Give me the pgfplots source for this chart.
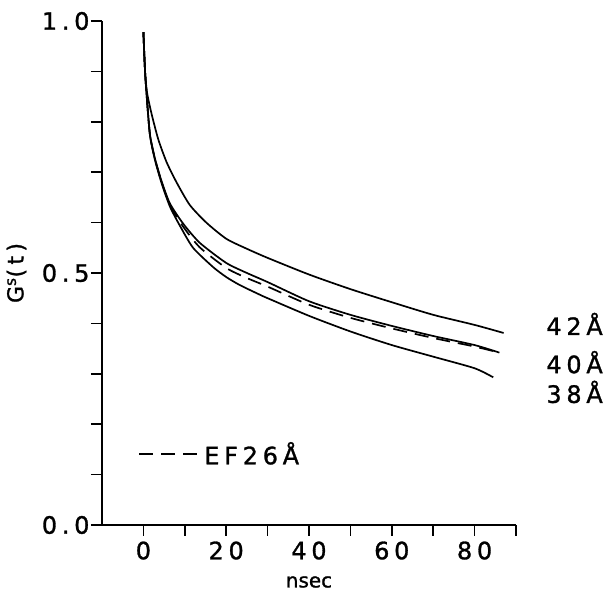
\documentclass[border=0pt]{standalone}
\usepackage{fontspec}
\setmainfont{DejaVu Sans}[LetterSpace=20, FakeBold=1.2]
\usepackage{pgfplots}
\pgfplotsset{compat=1.18}

\begin{document}
\begin{tikzpicture}
  \begin{axis}[
      scale only axis,
      width=414bp, height=504bp,
      xmin=-10, xmax=90,
      ymin=0, ymax=1,
      axis x line=bottom, axis y line=left,
      axis line style={-, line width=1.8bp},
      tick align=outside,
      major tick length=11bp,
      tick style={line width=1.6bp, black},
      xtick={0,10,20,30,40,50,60,70,80,90},
      xticklabels={0,,20,,40,,60,,80,},
      ytick={0,0.1,0.2,0.3,0.4,0.5,0.6,0.7,0.8,0.9,1.0},
      yticklabels={0.0,,,,,0.5,,,,,1.0},
      tick label style={font=\fontsize{24}{27}\selectfont},
      xticklabel style={yshift=-2bp},
      yticklabel style={xshift=2bp},
      xlabel={nsec},
      xlabel style={font=\fontsize{20}{22}\selectfont\addfontfeature{LetterSpace=0},
        at={(axis description cs:0.5,0)}, anchor=center, yshift=-57bp},
      ylabel={G\textsuperscript{s}(t)},
      ylabel style={font=\fontsize{22}{24}\selectfont,
        at={([xshift=-85.5bp]axis description cs:0,0.5)}, anchor=center},
      clip=false,
      legend style={draw=none, fill=none, at={(axis cs:-1.2,0.141)}, anchor=west,
        font=\fontsize{24}{27}\selectfont, inner sep=0pt, nodes={inner xsep=6bp}},
      legend cell align=left,
      legend image code/.code={\draw[#1] (0bp,0bp) -- (58bp,0bp);},
    ]
    \coordinate (sw) at (rel axis cs:0,0);
    \coordinate (ne) at (rel axis cs:1,1);

    % 42 A
    \addplot[black, line width=1.7bp, smooth, tension=0.4, forget plot] coordinates {
      (0,0.978) (0.4,0.90) (0.9,0.857) (2,0.815) (3.6,0.765) (5.6,0.720)
      (8,0.680) (11.2,0.635) (15.2,0.600) (20,0.568) (25,0.548) (30,0.530)
      (40,0.497) (50,0.468) (60,0.442) (70,0.417) (80,0.397) (87,0.381)
    };
    % 40 A
    \addplot[black, line width=1.7bp, smooth, tension=0.4, forget plot] coordinates {
      (0,0.978) (0.4,0.90) (0.9,0.84) (1.6,0.774) (2.8,0.727) (4.4,0.682)
      (6.4,0.638) (9.6,0.598) (13.6,0.560) (20,0.520) (25,0.500) (30,0.482)
      (40,0.444) (50,0.417) (60,0.395) (70,0.375) (80,0.357) (86,0.342)
    };
    % 38 A
    \addplot[black, line width=1.7bp, smooth, tension=0.4, forget plot] coordinates {
      (0,0.978) (0.4,0.90) (0.9,0.84) (1.6,0.772) (2.8,0.724) (4.4,0.678)
      (6.4,0.632) (8.8,0.594) (12,0.550) (16.8,0.512) (20,0.492) (23.3,0.476)
      (28.1,0.457) (30,0.450) (40,0.415) (50,0.384) (60,0.357) (70,0.334)
      (80,0.311) (84.5,0.293)
    };
    % EF 26 A
    \addplot[black, line width=1.7bp, dash pattern=on 14bp off 8bp, smooth, tension=0.4] coordinates {
      (0,0.978) (0.4,0.90) (0.9,0.84) (1.6,0.773) (2.8,0.726) (4.4,0.680)
      (6.4,0.635) (9.6,0.592) (13.6,0.551) (20,0.510) (25,0.490) (30,0.473)
      (40,0.437) (50,0.411) (60,0.390) (70,0.371) (80,0.354) (86,0.342)
    };
    \addlegendentry{EF26Å}

    \node[anchor=west, font=\fontsize{24}{27}\selectfont] at (axis cs:96.5,0.399) {42Å};
    \node[anchor=west, font=\fontsize{24}{27}\selectfont] at (axis cs:96.5,0.323) {40Å};
    \node[anchor=west, font=\fontsize{24}{27}\selectfont] at (axis cs:96.5,0.264) {38Å};
  \end{axis}
  \pgfresetboundingbox
  \path[use as bounding box] ([xshift=-102bp,yshift=-69bp]sw) rectangle ([xshift=88bp,yshift=21bp]ne);
\end{tikzpicture}
\end{document}
